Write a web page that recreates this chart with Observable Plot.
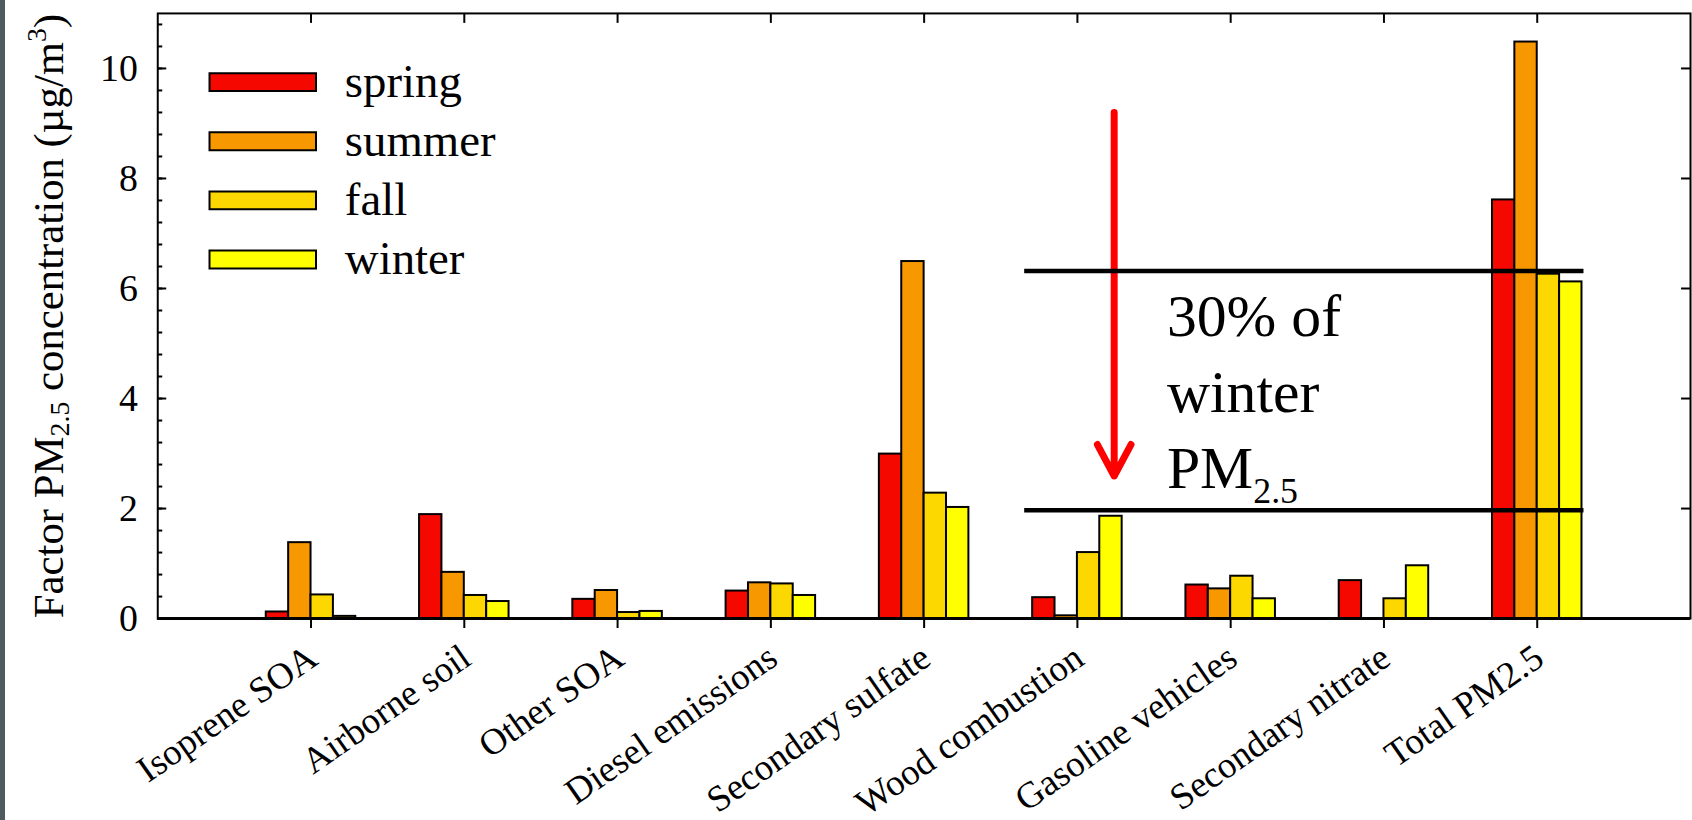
<!DOCTYPE html>
<html><head><meta charset="utf-8">
<script src="https://cdn.jsdelivr.net/npm/d3@7"></script>
<script src="https://cdn.jsdelivr.net/npm/@observablehq/plot@0.6"></script>
<style>
html,body{margin:0;padding:0;background:#fff;overflow:hidden;width:1692px;height:820px}
#chart{position:absolute;left:0;top:0}
#strip{position:absolute;left:0;top:0;width:5px;height:820px;background:#4f5b61}
</style></head><body>
<div id="chart"></div><div id="strip"></div>
<script>
// ---- data ----
const categories = ["Isoprene SOA","Airborne soil","Other SOA","Diesel emissions","Secondary sulfate","Wood combustion","Gasoline vehicles","Secondary nitrate","Total PM2.5"];
const seasons = ["spring","summer","fall","winter"];
const spring = [0.12, 1.89, 0.35, 0.50, 2.99, 0.38, 0.61, 0.69, 7.61];
const summer = [1.38, 0.84, 0.51, 0.65, 6.49, 0.05, 0.54, 0.00, 10.48];
const fall   = [0.43, 0.42, 0.11, 0.63, 2.28, 1.20, 0.77, 0.36, 6.26];
const winter = [0.04, 0.31, 0.13, 0.42, 2.02, 1.86, 0.36, 0.96, 6.12];
const seasonColors = ["#f40800", "#f89800", "#fcd700", "#ffff00"];
const yTicks = [0, 2, 4, 6, 8, 10];
const yTitle = "Factor PM2.5 concentration (µg/m3)";
// annotation
const bracketLevels = [6.32, 1.97];
const bracketFrom = 5.656, bracketTo = 9.305;   // in category-axis units
const arrowX = 6.24, arrowTop = 9.2, arrowTip = 2.59;
const noteLines = ["30% of", "winter", "PM2.5"];
const noteY = [5.14, 3.76, 2.37];
const noteX = 6.584;

// ---- layout ----
const W = 1700, H = 820;
const mTop = 13, mBottom = 199, mLeft = 158, mRight = 2;
const plotW = W - mLeft - mRight, plotH = H - mTop - mBottom;
const groupWidth = 0.584, barWidth = groupWidth / 4;
const font = "Liberation Serif";

const series = [spring, summer, fall, winter];
const bars = categories.flatMap((c, i) => seasons.map((s, j) => ({category: c, ci: i + 1, season: s, si: j, value: series[j][i]})))
  .filter(d => d.value > 0);
const catIdx = categories.map((c, i) => i + 1);
const yMinor = d3.range(0, 28).map(i => +(i * 0.4).toFixed(1));

const rectSym = {draw(ctx) { ctx.rect(-53.5, -9, 107, 18); }};

const legendMarks = seasons.flatMap((s, i) => [
  Plot.dot([s], {frameAnchor: "top-left", dx: 105.5, dy: 69 + i * 59.4, symbol: rectSym, fill: d => d, stroke: "black", strokeWidth: 2}),
  Plot.text([s], {frameAnchor: "top-left", dx: 188, dy: 69 + i * 59.4, text: d => d, textAnchor: "start", lineAnchor: "middle", fontSize: 47, fill: "black"})
]);

const chart = Plot.plot({
  width: W, height: H,
  marginTop: mTop, marginBottom: mBottom, marginLeft: mLeft, marginRight: mRight,
  style: {fontFamily: font, background: "transparent", overflow: "visible"},
  x: {type: "linear", domain: [0, 10], axis: null},
  y: {domain: [0, 11], axis: null},
  color: {domain: seasons, range: seasonColors},
  marks: [
    Plot.rectY(bars, {
      x1: d => d.ci - groupWidth / 2 + d.si * barWidth,
      x2: d => d.ci - groupWidth / 2 + (d.si + 1) * barWidth,
      y1: 0, y2: "value", fill: "season", stroke: "black", strokeWidth: 2
    }),
    Plot.arrow([0], {x1: arrowX, x2: arrowX, y1: arrowTop, y2: arrowTip, stroke: "#ff0000", strokeWidth: 7, headLength: 7.7, headAngle: 56}),
    Plot.ruleY(bracketLevels, {y: d => d, x1: bracketFrom, x2: bracketTo, stroke: "black", strokeWidth: 4.5}),
    Plot.text(noteLines, {x: noteX, y: (d, i) => noteY[i], text: d => d, textAnchor: "start", lineAnchor: "bottom", fontSize: 60, fill: "black"}),
    // frame & ticks
    Plot.frame({stroke: "black", strokeWidth: 2}),
    Plot.ruleY([0], {stroke: "black", strokeWidth: 3}),
    Plot.ruleY(yTicks, {insetRight: plotW - 9, stroke: "black", strokeWidth: 2}),
    Plot.ruleY(yMinor, {insetRight: plotW - 5, stroke: "black", strokeWidth: 2}),
    Plot.ruleY(yTicks, {insetLeft: plotW - 9, stroke: "black", strokeWidth: 2}),
    Plot.ruleX(catIdx, {insetBottom: plotH - 10, stroke: "black", strokeWidth: 2}),
    Plot.ruleX(catIdx, {insetTop: plotH, insetBottom: -10, stroke: "black", strokeWidth: 2}),
    Plot.axisY({ticks: yTicks, tickSize: 0, tickPadding: 20, fontSize: 38, label: null, tickFormat: d => d, fill: "black"}),
    Plot.text(categories, {x: (d, i) => i + 1, frameAnchor: "bottom", dx: 2, dy: 35, rotate: -35, textAnchor: "end", lineAnchor: "middle", fontSize: 37, fill: "black"}),
    Plot.text([yTitle], {frameAnchor: "left", dx: -109, rotate: -90, textAnchor: "middle", lineAnchor: "middle", fontSize: 43, fill: "black"}),
    ...legendMarks
  ]
});
document.getElementById("chart").appendChild(chart);

// sub/superscripts
const svg = d3.select(chart);
svg.selectAll("text").filter(function() { return this.textContent === "PM2.5"; })
  .each(function() {
    const t = d3.select(this);
    t.text("PM");
    t.append("tspan").attr("font-size", 36).attr("dy", 15).text("2.5");
  });
svg.selectAll("text").filter(function() { return this.textContent === yTitle; })
  .each(function() {
    const t = d3.select(this);
    t.text("Factor PM");
    t.append("tspan").attr("font-size", 28).attr("dy", 6).text("2.5");
    t.append("tspan").attr("dy", -6).text(" concentration (µg/m");
    t.append("tspan").attr("font-size", 28).attr("dy", -17).text("3");
    t.append("tspan").attr("dy", 17).text(")");
  });
</script>
</body></html>
